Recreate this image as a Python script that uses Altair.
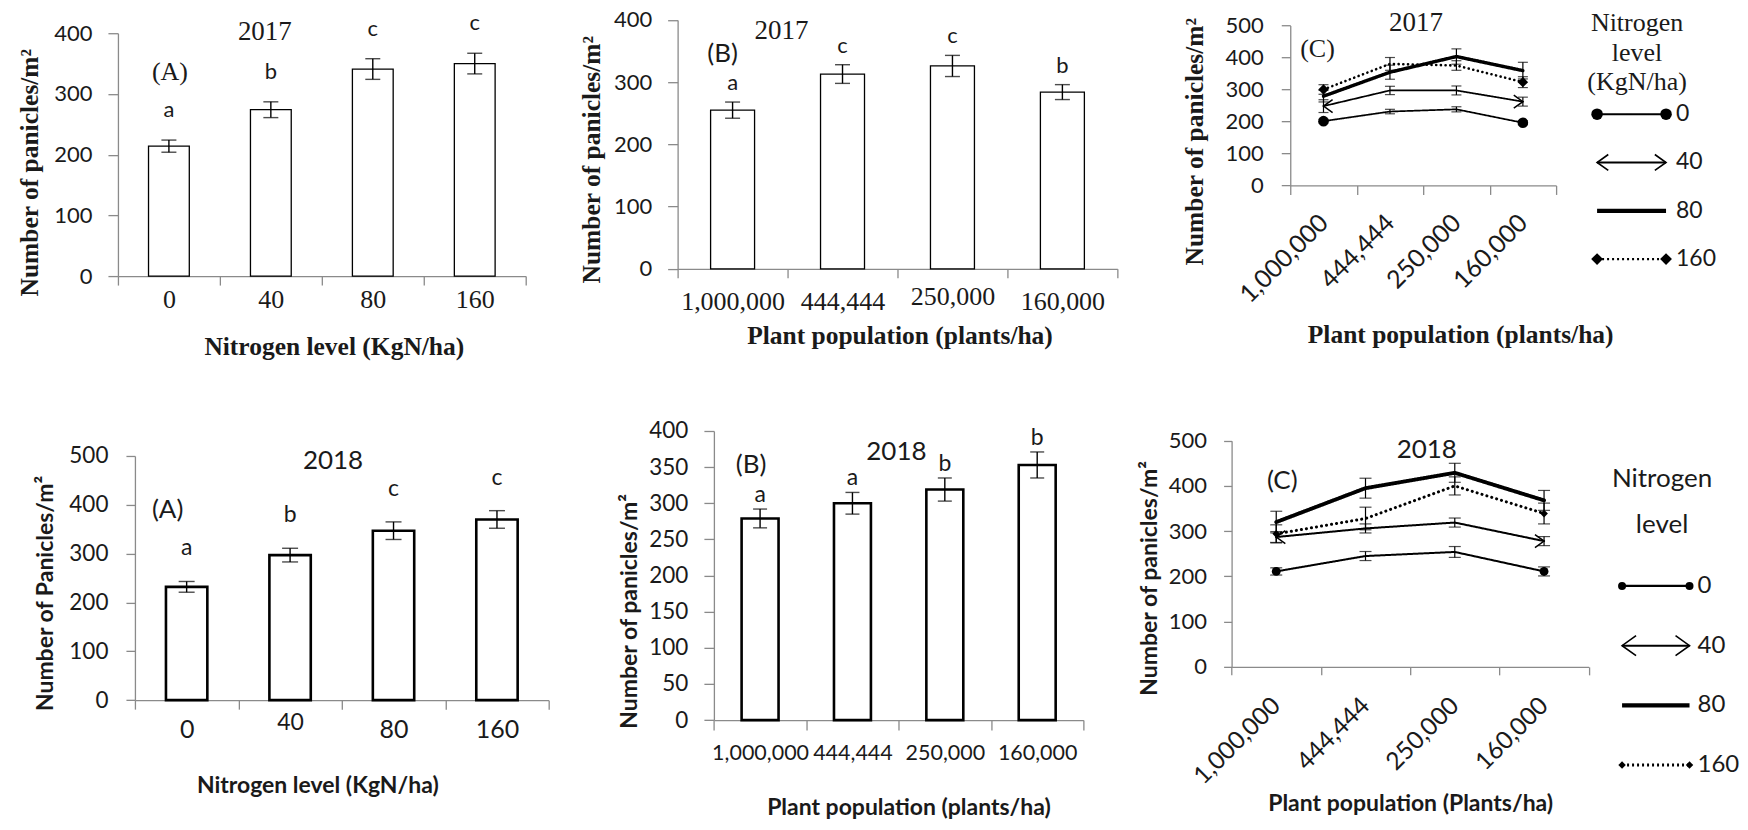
import altair as alt
import pandas as pd

SERIF = "Liberation Serif"
SANS = "Lato"
GREY = "#8a8a8a"
INK = "#1a1a1a"

# ---------------- data ----------------
N_LEVELS = ["0", "40", "80", "160"]
POPS = ["1,000,000", "444,444", "250,000", "160,000"]

# 2017 (A): panicles by nitrogen level
A17_MEAN = [214, 274, 341, 350]
A17_SE = [10, 13, 17, 17]
A17_LETTERS = ["a", "b", "c", "c"]

# 2017 (B): panicles by plant population
B17_MEAN = [255, 313, 326, 284]
B17_SE = [13, 15, 17, 12]
B17_LETTERS = ["a", "c", "c", "b"]

# 2017 (C): nitrogen x population
C17_N0 = [201, 231, 238, 196]
C17_N0_SE = [6, 7, 8, 6]
C17_N40 = [248, 297, 297, 262]
C17_N40_SE = [20, 13, 14, 14]
C17_N80 = [279, 354, 403, 359]
C17_N80_SE = [18, 22, 24, 26]
C17_N160 = [300, 380, 375, 323]
C17_N160_SE = [15, 20, 15, 17]

# 2018 (A)
A18_MEAN = [232, 297, 347, 370]
A18_SE = [11, 14, 18, 18]
A18_LETTERS = ["a", "b", "c", "c"]

# 2018 (B)
B18_MEAN = [279, 300, 319, 353]
B18_SE = [13, 15, 16, 18]
B18_LETTERS = ["a", "a", "b", "b"]

# 2018 (C)
C18_N0 = [211, 245, 254, 211]
C18_N0_SE = [8, 10, 12, 10]
C18_N40 = [287, 306, 319, 278]
C18_N40_SE = [12, 10, 10, 10]
C18_N80 = [320, 395, 429, 368]
C18_N80_SE = [24, 22, 21, 22]
C18_N160 = [294, 328, 400, 339]
C18_N160_SE = [20, 25, 20, 23]

LEGEND_TITLE_17 = ["Nitrogen", "level", "(KgN/ha)"]
LEGEND_TITLE_18 = ["Nitrogen", "level"]

CHEV_L = "M1.4,-1L0,0L1.4,1"
CHEV_R = "M-1.4,-1L0,0L-1.4,1"

# ---------------- layout (a 4 x 2 grid of equal cells) ----------------
CELL_W, CELL_H, ORIGIN = 433, 405, 8


def origin(cell):
    c, r = cell
    return ORIGIN + c * CELL_W, ORIGIN + r * CELL_H


def x_axis(p, ox, oy, rotated=False):
    L, T, R, B = p["box"]
    kw = dict(
        offset=(B - oy) - CELL_H,
        title=p["xtitle"], titleFont=p["tfont"], titleFontSize=p["tsize"], titleFontWeight="bold",
        titleX=p["xt_at"][0] - ox, titleY=p["xt_at"][1] - B, titleBaseline="middle", titleAlign="center",
        titleLimit=1000, titleColor=INK, labelFont=p["xlfont"], labelFontSize=p["xlsize"], labelColor=INK,
        labelOverlap=False, labelLimit=400, tickBand="extent", tickSize=p["xtick"],
        labelPadding=p["xlpad"],
    )
    if "xlpad_cond" in p:
        cat, pad, size = p["xlpad_cond"]
        kw["labelPadding"] = {"condition": {"test": f"datum.value == '{cat}'", "value": pad}, "value": p["xlpad"]}
        kw["labelFontSize"] = {"condition": {"test": f"datum.value == '{cat}'", "value": size}, "value": p["xlsize"]}
    if rotated:
        kw.update(labelAngle=315, labelAlign="right", labelBaseline="middle")
    else:
        kw.update(labelAngle=0)
    return alt.Axis(**kw)


def y_axis(p, ox, oy):
    L, T, R, B = p["box"]
    return alt.Axis(
        offset=-(L - ox),
        values=list(range(0, p["ymax"] + 1, p["ystep"])),
        title=p["ytitle"], titleFont=p["tfont"], titleFontSize=p["tsize"], titleFontWeight="bold",
        titleX=p["yt_at"][0] - L, titleY=p["yt_at"][1] - oy, titleBaseline="middle", titleAlign="center",
        titleAngle=270, titleLimit=1000, titleColor=INK, labelFont=SANS, labelFontSize=p["ylsize"],
        labelColor=INK, labelPadding=p["ylpad"], tickSize=p["ytick"], grid=False,
    )


def scales(p, cats):
    ox, oy = origin(p["cell"])
    L, T, R, B = p["box"]
    xs = alt.Scale(domain=cats, range=[L - ox, R - ox], paddingInner=0, paddingOuter=0)
    ys = alt.Scale(domain=[0, p["ymax"]], range=[B - oy, T - oy], nice=False)
    return ox, oy, xs, ys


def note(txt, cat, yv, xs, ys, font, size, dx=0):
    return alt.Chart(pd.DataFrame({"k": [0]})).mark_text(
        text=txt, font=font, fontSize=size, dx=dx, baseline="middle", align="center", color=INK
    ).encode(
        x=alt.XDatum(cat, type="nominal", scale=xs, bandPosition=0.5),
        y=alt.YDatum(yv, type="quantitative", scale=ys),
    )


def bar_panel(cats, means, ses, letters, p):
    df = pd.DataFrame({"cat": cats, "mean": means, "se": ses, "letter": letters})
    base = alt.Chart(df).transform_calculate(lo="datum.mean - datum.se", hi="datum.mean + datum.se")
    ox, oy, xs, ys = scales(p, cats)
    xb = alt.X("cat:N", scale=xs, bandPosition=0.5)
    bars = base.mark_bar(width=alt.RelativeBandSize(0.4), fill="white", stroke="black",
                         strokeWidth=p["bar_stroke"]).encode(
        x=alt.X("cat:N", scale=xs, axis=x_axis(p, ox, oy)),
        y=alt.Y("mean:Q", scale=ys, axis=y_axis(p, ox, oy)),
    )
    err = base.mark_rule(color="black", strokeWidth=1.4).encode(
        x=xb, y=alt.Y("lo:Q", scale=ys), y2="hi:Q")
    cap_lo = base.mark_tick(color="black", size=p["cap"], thickness=1.4).encode(
        x=xb, y=alt.Y("lo:Q", scale=ys))
    cap_hi = base.mark_tick(color="black", size=p["cap"], thickness=1.4).encode(
        x=xb, y=alt.Y("hi:Q", scale=ys))
    let = base.mark_text(font=SANS, fontSize=p["let_size"], dy=-p["let_dy"], baseline="middle",
                         color=INK).encode(x=xb, y=alt.Y("hi:Q", scale=ys), text="letter:N")
    notes = [note(t, c, v, xs, ys, f, s, dx) for (t, c, v, f, s, dx) in p["notes"]]
    return alt.layer(bars, err, cap_lo, cap_hi, let, *notes).properties(width=CELL_W, height=CELL_H)


def line_panel(series, p):
    rows = []
    for lvl, means, ses in series:
        for i, (pop, m, s) in enumerate(zip(POPS, means, ses)):
            rows.append({"N": lvl, "pop": pop, "i": i, "mean": m, "se": s})
    df = pd.DataFrame(rows)
    base = alt.Chart(df).transform_calculate(lo="datum.mean - datum.se", hi="datum.mean + datum.se")
    ox, oy, xs, ys = scales(p, POPS)
    xb = alt.X("pop:N", scale=xs, bandPosition=0.5)
    yb = alt.Y("mean:Q", scale=ys)
    layers = []
    for k, lvl in enumerate(N_LEVELS):
        dash = p["dots"] if lvl == "160" else [1, 0]
        enc = dict(x=xb, y=yb, order="i:Q")
        if k == 0:
            enc = dict(x=alt.X("pop:N", scale=xs, bandPosition=0.5, axis=x_axis(p, ox, oy, rotated=True)),
                       y=alt.Y("mean:Q", scale=ys, axis=y_axis(p, ox, oy)), order="i:Q")
        layers.append(base.transform_filter(f"datum.N == '{lvl}'").mark_line(
            color="black", strokeCap="round", strokeJoin="round",
            strokeWidth=p["widths"][k], strokeDash=dash).encode(**enc))
    err = base.mark_rule(color="black", strokeWidth=1.2).encode(x=xb, y=alt.Y("lo:Q", scale=ys), y2="hi:Q")
    cap_lo = base.mark_tick(color="black", size=p["cap"], thickness=1.2).encode(x=xb, y=alt.Y("lo:Q", scale=ys))
    cap_hi = base.mark_tick(color="black", size=p["cap"], thickness=1.2).encode(x=xb, y=alt.Y("hi:Q", scale=ys))
    circ = base.transform_filter("datum.N == '0' && (datum.i == 0 || datum.i == 3)").mark_point(
        shape="circle", filled=True, color="black", opacity=1, size=p["circ"]).encode(x=xb, y=yb)
    arr_l = base.transform_filter("datum.N == '40' && datum.i == 0").mark_point(
        shape=CHEV_L, filled=False, color="black", opacity=1, strokeWidth=1.5, size=p["chev"]).encode(x=xb, y=yb)
    arr_r = base.transform_filter("datum.N == '40' && datum.i == 3").mark_point(
        shape=CHEV_R, filled=False, color="black", opacity=1, strokeWidth=1.5, size=p["chev"]).encode(x=xb, y=yb)
    dia = base.transform_filter("datum.N == '160' && (datum.i == 0 || datum.i == 3)").mark_point(
        shape="diamond", filled=True, color="black", opacity=1, size=p["dia"]).encode(x=xb, y=yb)
    notes = [note(t, c, v, xs, ys, f, s, dx) for (t, c, v, f, s, dx) in p["notes"]]
    return alt.layer(*layers, err, cap_lo, cap_hi, circ, arr_l, arr_r, dia, *notes).properties(
        width=CELL_W, height=CELL_H)


def legend_panel(title_lines, p):
    ox, oy = origin(p["cell"])
    df = pd.DataFrame([{"N": lvl, "end": e} for lvl in N_LEVELS for e in (0, 1)])
    base = alt.Chart(df)
    xs = alt.Scale(domain=[0, 1], range=[p["glyph"][0] - ox, p["glyph"][1] - ox], nice=False, zero=False)
    ys = alt.Scale(type="point", domain=N_LEVELS, range=[p["rows"][0] - oy, p["rows"][1] - oy], padding=0)
    x = alt.X("end:Q", scale=xs, axis=None)
    y = alt.Y("N:N", scale=ys, axis=None)
    layers = []
    for k, lvl in enumerate(N_LEVELS):
        dash = p["dots"] if lvl == "160" else [1, 0]
        layers.append(base.transform_filter(f"datum.N == '{lvl}'").mark_line(
            color="black", strokeCap="butt", strokeWidth=p["widths"][k], strokeDash=dash).encode(x=x, y=y))
    circ = base.transform_filter("datum.N == '0'").mark_point(
        shape="circle", filled=True, color="black", opacity=1, size=p["circ"]).encode(x=x, y=y)
    arr_l = base.transform_filter("datum.N == '40' && datum.end == 0").mark_point(
        shape=CHEV_L, filled=False, color="black", opacity=1, strokeWidth=1.6, size=p["chev"]).encode(x=x, y=y)
    arr_r = base.transform_filter("datum.N == '40' && datum.end == 1").mark_point(
        shape=CHEV_R, filled=False, color="black", opacity=1, strokeWidth=1.6, size=p["chev"]).encode(x=x, y=y)
    dia = base.transform_filter("datum.N == '160'").mark_point(
        shape="diamond", filled=True, color="black", opacity=1, size=p["dia"]).encode(x=x, y=y)
    labels = base.transform_filter("datum.end == 1").mark_text(
        align="left", baseline="middle", dx=p["ldx"], font=SANS, fontSize=p["lsize"], color=INK
    ).encode(x=x, y=y, text="N:N")
    tdf = pd.DataFrame({"line": title_lines})
    ts = alt.Scale(type="point", domain=title_lines,
                   range=[p["title_rows"][0] - oy, p["title_rows"][1] - oy], padding=0)
    title = alt.Chart(tdf).mark_text(
        font=p["tfont"], fontSize=p["tsize"], baseline="middle", align="center", color=INK, dx=p["tdx"]
    ).encode(x=alt.XDatum(0.5, type="quantitative", scale=xs), y=alt.Y("line:N", scale=ts, axis=None),
             text="line:N")
    return alt.layer(*layers, circ, arr_l, arr_r, dia, labels, title).resolve_scale(
        y="independent").properties(width=CELL_W, height=CELL_H)


YT = "Number of panicles/m²"

pA17 = bar_panel(N_LEVELS, A17_MEAN, A17_SE, A17_LETTERS, dict(
    cell=(0, 0), box=(118, 31, 526, 274), ymax=400, ystep=100, tfont=SERIF, tsize=25.5,
    xtitle="Nitrogen level (KgN/ha)", xt_at=(334, 344), xlfont=SERIF, xlsize=26, xlpad=1, xtick=9,
    ytitle=YT, yt_at=(30, 170), ylsize=22, ylpad=16, ytick=10,
    bar_stroke=1.3, cap=15, let_size=22, let_dy=30,
    notes=[("2017", "40", 401.6, SERIF, 27, -6), ("(A)", "0", 335.8, SERIF, 26, 1)]))

pB17 = bar_panel(POPS, B17_MEAN, B17_SE, B17_LETTERS, dict(
    cell=(1, 0), box=(678, 17.7, 1118, 266.7), ymax=400, ystep=100, tfont=SERIF, tsize=25.5,
    xtitle="Plant population (plants/ha)", xt_at=(900, 333), xlfont=SERIF, xlsize=26, xlpad=11, xtick=9,
    xlpad_cond=("250,000", 6, 26),
    ytitle=YT, yt_at=(592, 157), ylsize=22, ylpad=16, ytick=10,
    bar_stroke=1.3, cap=15, let_size=22, let_dy=19,
    notes=[("2017", POPS[0], 381.8, SERIF, 27, 49), ("(B)", POPS[0], 345, SANS, 26, -10)]))

pC17 = line_panel([("0", C17_N0, C17_N0_SE), ("40", C17_N40, C17_N40_SE),
                   ("80", C17_N80, C17_N80_SE), ("160", C17_N160, C17_N160_SE)], dict(
    cell=(2, 0), box=(1291, 23.3, 1557, 183.3), ymax=500, ystep=100, tfont=SERIF, tsize=25.5,
    xtitle="Plant population (plants/ha)", xt_at=(1461, 332), xlfont=SANS, xlsize=25, xlpad=24, xtick=9,
    ytitle=YT, yt_at=(1195, 139), ylsize=22, ylpad=18, ytick=9,
    widths=[1.7, 1.7, 3.4, 2.6], dots=[0.1, 4.6], cap=10, circ=113, chev=169, dia=110,
    notes=[("2017", POPS[1], 507, SERIF, 27, 26), ("(C)", POPS[0], 427, SERIF, 26, -6)]))

leg17 = legend_panel(LEGEND_TITLE_17, dict(
    cell=(3, 0), glyph=(1598, 1667), rows=(112, 257), title_rows=(21, 80), tdx=5.5,
    widths=[2, 2, 4.2, 2.4], dots=[2, 3], circ=133, chev=256, dia=140,
    ldx=10, lsize=23, tfont=SERIF, tsize=26))

pA18 = bar_panel(N_LEVELS, A18_MEAN, A18_SE, A18_LETTERS, dict(
    cell=(0, 1), box=(135, 454, 549, 698.3), ymax=500, ystep=100, tfont=SANS, tsize=23,
    xtitle="Nitrogen level (KgN/ha)", xt_at=(317.5, 784), xlfont=SANS, xlsize=25, xlpad=8.5, xtick=9,
    xlpad_cond=("40", 2.5, 23),
    ytitle="Number of Panicles/m²", yt_at=(46, 591), ylsize=22.5, ylpad=18, ytick=9,
    bar_stroke=2.6, cap=16, let_size=23, let_dy=33,
    notes=[("2018", "40", 489.7, SANS, 26, 43), ("(A)", "0", 388.8, SANS, 26, -19)]))

pB18 = bar_panel(POPS, B18_MEAN, B18_SE, B18_LETTERS, dict(
    cell=(1, 1), box=(714.3, 429, 1084, 718.3), ymax=400, ystep=50, tfont=SANS, tsize=23,
    xtitle="Plant population (plants/ha)", xt_at=(909, 806), xlfont=SANS, xlsize=21.5, xlpad=12, xtick=10,
    ytitle=YT, yt_at=(630, 609), ylsize=22.5, ylpad=16, ytick=10,
    bar_stroke=2.6, cap=14, let_size=23, let_dy=14,
    notes=[("2018", POPS[1], 371, SANS, 26, 44), ("(B)", POPS[0], 352.5, SANS, 26, -9)]))

pC18 = line_panel([("0", C18_N0, C18_N0_SE), ("40", C18_N40, C18_N40_SE),
                   ("80", C18_N80, C18_N80_SE), ("160", C18_N160, C18_N160_SE)], dict(
    cell=(2, 1), box=(1232.3, 438.7, 1589.6, 665), ymax=500, ystep=100, tfont=SANS, tsize=23,
    xtitle="Plant population (Plants/ha)", xt_at=(1411, 802), xlfont=SANS, xlsize=24.5, xlpad=27, xtick=8,
    ytitle=YT, yt_at=(1150, 576), ylsize=22, ylpad=17, ytick=8,
    widths=[2, 2, 3.8, 3], dots=[0.1, 5], cap=12, circ=78, chev=169, dia=60,
    notes=[("2018", POPS[2], 478.7, SANS, 26, -28), ("(C)", POPS[0], 410, SANS, 26, 6)]))

leg18 = legend_panel(LEGEND_TITLE_18, dict(
    cell=(3, 1), glyph=(1623, 1690.5), rows=(584, 763.3), title_rows=(476.8, 522.9), tdx=6.25,
    widths=[2.4, 2, 4.2, 3], dots=[2, 3], circ=64, chev=400, dia=56,
    ldx=8, lsize=24, tfont=SANS, tsize=26))

chart = alt.concat(
    pA17, pB17, pC17, leg17, pA18, pB18, pC18, leg18,
    columns=4, spacing=0, bounds="flush", align="all",
).properties(
    padding={"left": 0, "top": 0, "right": 0, "bottom": 0}
).configure_view(stroke=None).configure_axis(
    grid=False, domainColor=GREY, tickColor=GREY, domainWidth=1.3, tickWidth=1.3
)

chart.save("out.html", embed_options={"renderer": "svg", "actions": False})
